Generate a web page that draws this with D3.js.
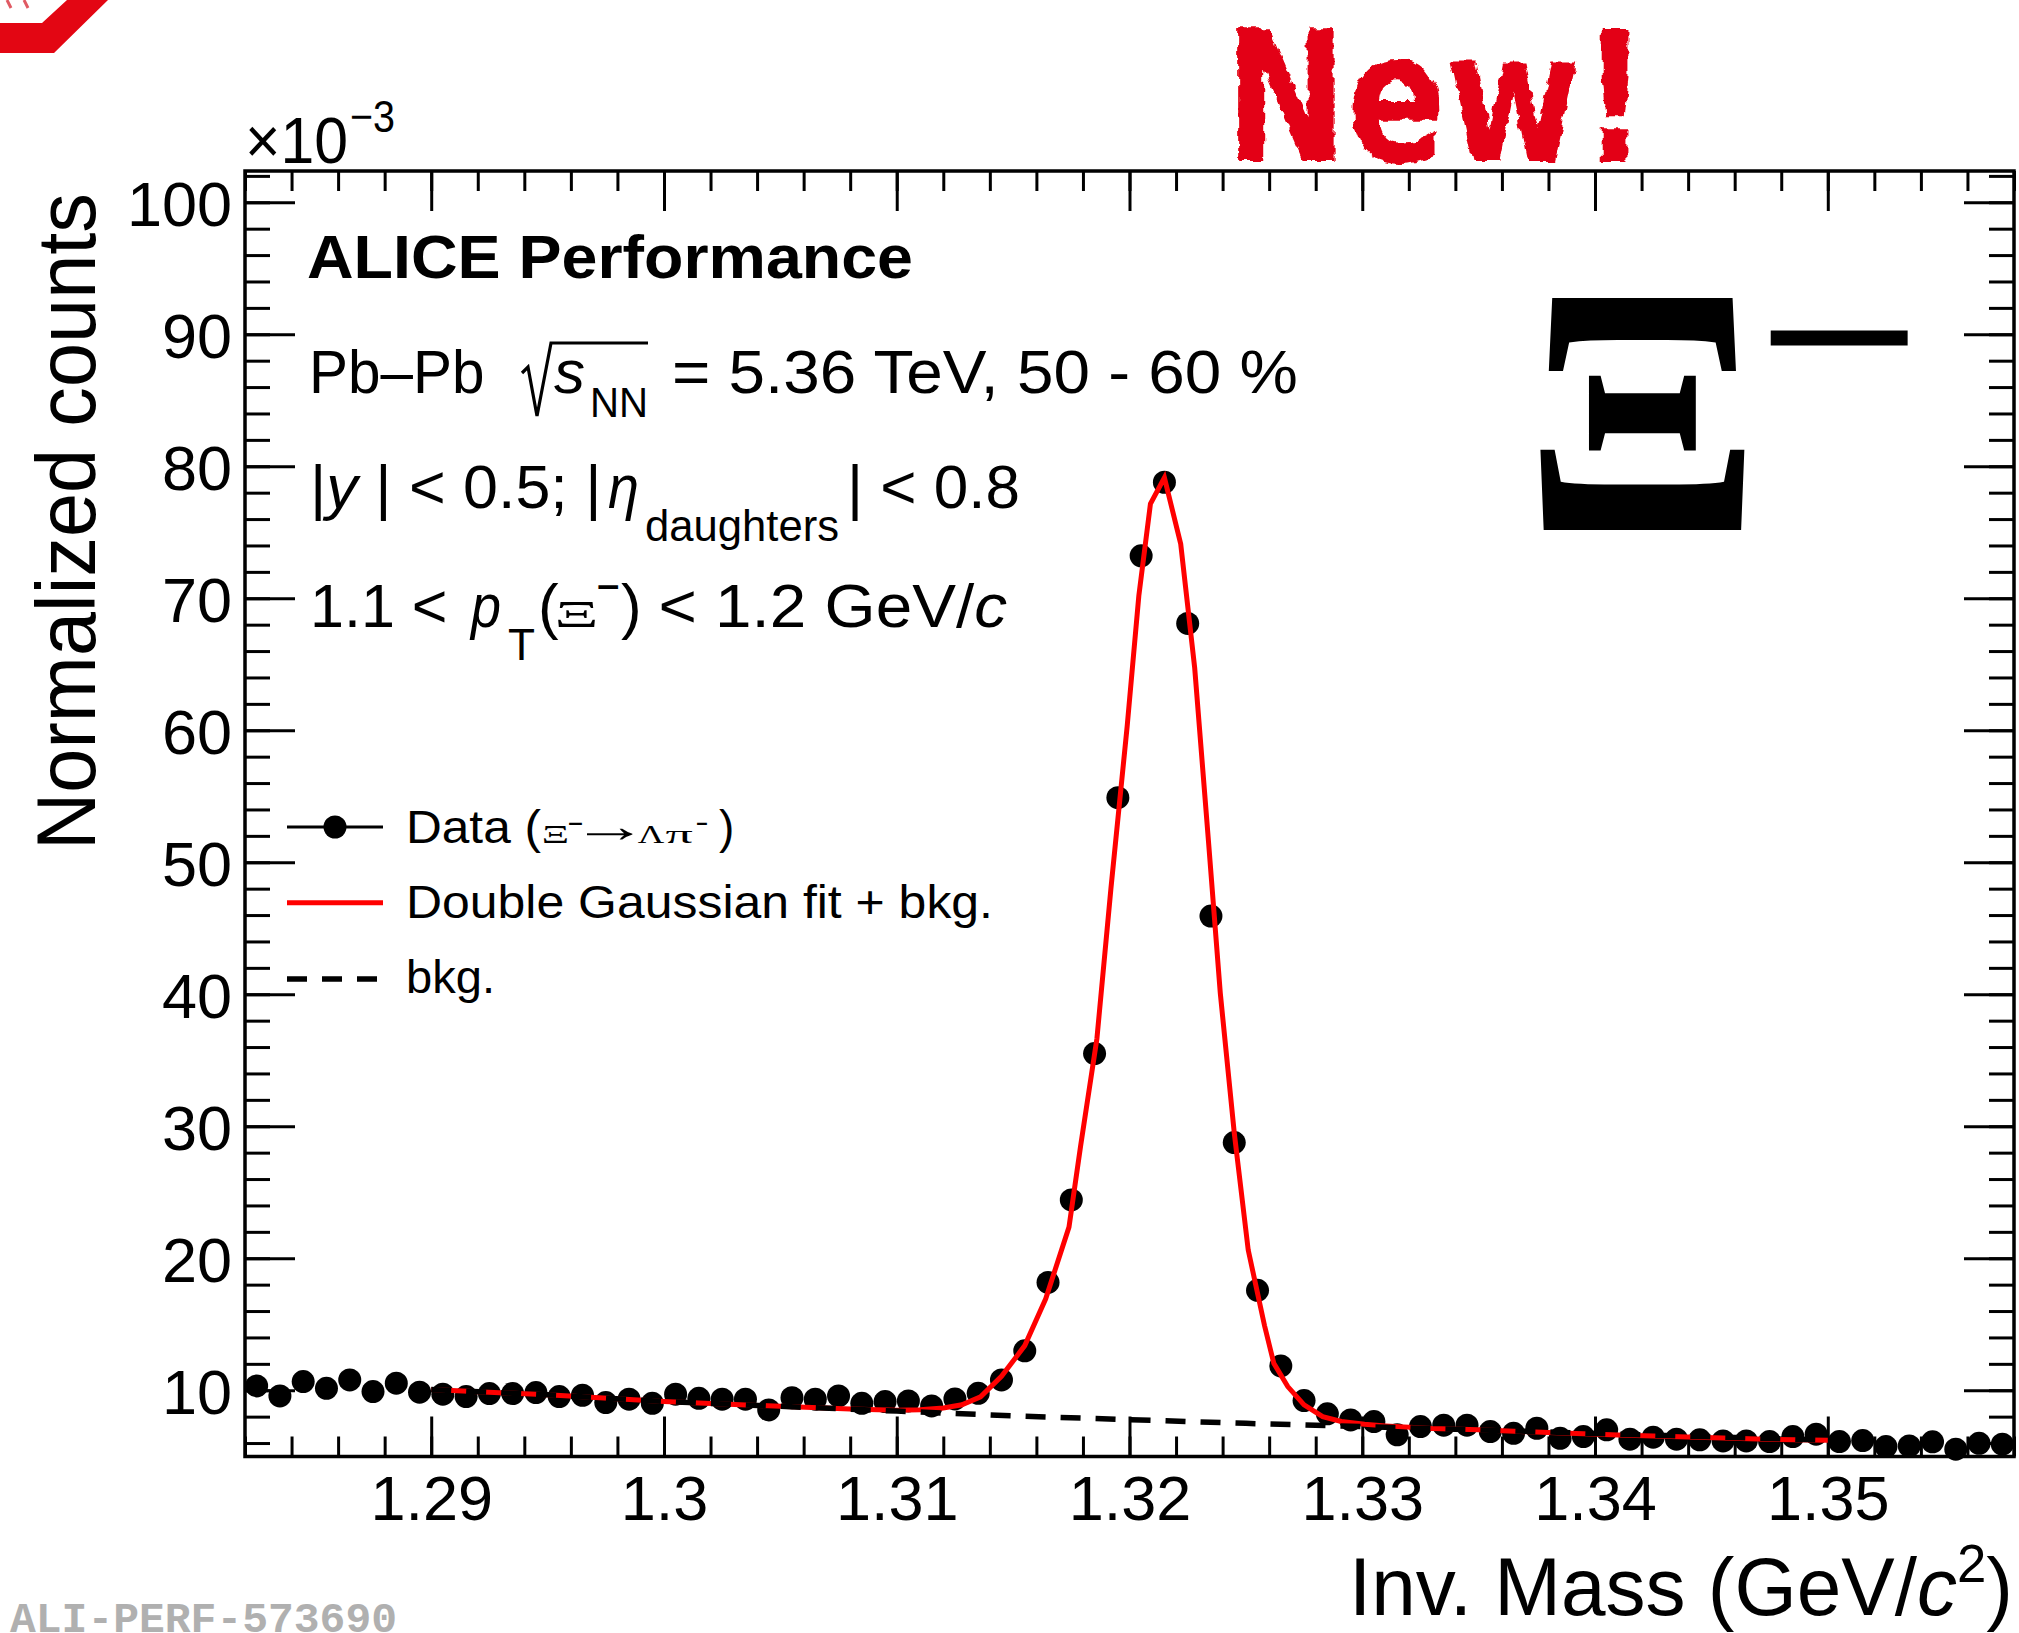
<!DOCTYPE html>
<html><head><meta charset="utf-8">
<script src="https://cdn.jsdelivr.net/npm/d3@7"></script>
<style>html,body{margin:0;padding:0;background:#fff;} svg{display:block;} text{white-space:pre;}</style>
</head><body>
<svg id="chart" width="2019" height="1633" xmlns="http://www.w3.org/2000/svg">
  <defs>
    <filter id="rough" x="-3%" y="-5%" width="106%" height="110%">
      <feTurbulence type="fractalNoise" baseFrequency="0.09" numOctaves="2" seed="4" result="n"/>
      <feDisplacementMap in="SourceGraphic" in2="n" scale="9" xChannelSelector="R" yChannelSelector="G"/>
    </filter>
  </defs>
</svg>
<script>
// ---------------- data (values in units of 10^-3) ----------------
const binLow = 1.282;
const binWidth = 0.001;
const counts = [10.33, 9.57, 10.66, 10.15, 10.78, 9.90, 10.53, 9.85, 9.70, 9.52,
  9.75, 9.75, 9.82, 9.52, 9.62, 9.07, 9.32, 9.01, 9.70, 9.39,
  9.32, 9.32, 8.51, 9.44, 9.32, 9.57, 9.01, 9.14, 9.19, 8.81,
  9.34, 9.77, 10.78, 12.99, 18.17, 24.42, 35.51, 54.89, 73.22, 78.79,
  68.09, 45.92, 28.76, 17.57, 11.84, 9.22, 8.21, 7.75, 7.63, 6.62,
  7.25, 7.35, 7.35, 6.87, 6.74, 7.12, 6.36, 6.49, 7.00, 6.29,
  6.44, 6.29, 6.24, 6.16, 6.16, 6.11, 6.49, 6.67, 6.11, 6.19,
  5.73, 5.78, 6.09, 5.53, 5.98, 5.91];
const fitMass = [1.2900, 1.2950, 1.3000, 1.3050, 1.3080, 1.3100, 1.3110, 1.3120, 1.3128, 1.3136,
  1.3145, 1.3155, 1.3164, 1.3174, 1.3179, 1.3186, 1.3192, 1.3199, 1.3204, 1.3209,
  1.3215, 1.3222, 1.3228, 1.3234, 1.3239, 1.3245, 1.3251, 1.3258, 1.3262, 1.3268,
  1.3275, 1.3283, 1.3291, 1.3301, 1.3310, 1.3330, 1.3350, 1.3380, 1.3410, 1.3440,
  1.3470, 1.3500];
const fitValue = [10.05, 9.65, 9.15, 8.78, 8.58, 8.48, 8.52, 8.66, 8.90, 9.50,
  11.05, 13.38, 16.93, 22.36, 28.52, 36.64, 47.98, 60.30, 70.17, 77.16,
  79.14, 74.11, 64.74, 51.43, 40.10, 29.50, 20.63, 14.90, 12.04, 10.28,
  8.89, 8.00, 7.63, 7.42, 7.30, 7.10, 7.00, 6.80, 6.60, 6.45,
  6.30, 6.22];
const bkgMass = [1.290, 1.295, 1.300, 1.305, 1.310, 1.315, 1.320, 1.325, 1.330, 1.335, 1.340, 1.345, 1.350];
const bkgValue = [10.05, 9.65, 9.15, 8.78, 8.42, 8.06, 7.77, 7.49, 7.25, 7.00, 6.72, 6.47, 6.22];
const xTickValues = [1.29, 1.30, 1.31, 1.32, 1.33, 1.34, 1.35];
const xTickLabels = ["1.29", "1.3", "1.31", "1.32", "1.33", "1.34", "1.35"];
const yTickValues = [10, 20, 30, 40, 50, 60, 70, 80, 90, 100];
const yTickLabels = ["10", "20", "30", "40", "50", "60", "70", "80", "90", "100"];
const xDomain = [1.282, 1.358];
const yDomain = [4.98, 102.37];

// ---------------- layout ----------------
const L = 245, R = 2014, T = 171, B = 1456.5;
const FONT = "'Liberation Sans', Arial, Helvetica, sans-serif";
const SERIF = "'Liberation Serif', 'DejaVu Serif', serif";
const RED = "#ff0000";
const svg = d3.select('#chart');

const x = d3.scaleLinear().domain(xDomain).range([L, R]);
const y = d3.scaleLinear().domain(yDomain).range([B, T]);

function styleAxis(g) {
  g.select('.domain').remove();
  g.selectAll('line').attr('stroke', '#000').attr('stroke-width', 3);
  g.attr('font-family', FONT);
}
const xMinor = d3.range(39).map(i => +(xDomain[0] + 0.002 * i).toFixed(3));
const yMinor = d3.range(6, 103, 2);

// bottom axis
svg.append('g').attr('transform', `translate(0,${B})`)
  .call(d3.axisBottom(x).tickValues(xMinor).tickSize(-20).tickSizeOuter(0).tickFormat(''))
  .call(styleAxis);
svg.append('g').attr('transform', `translate(0,${B})`)
  .call(d3.axisBottom(x).tickValues(xTickValues).tickSize(-40).tickSizeOuter(0).tickPadding(19)
    .tickFormat((d, i) => xTickLabels[i]))
  .call(styleAxis)
  .call(g => g.selectAll('text').attr('font-size', 63).attr('fill', '#000'));
// top axis
svg.append('g').attr('transform', `translate(0,${T})`)
  .call(d3.axisTop(x).tickValues(xMinor).tickSize(-20).tickSizeOuter(0).tickFormat(''))
  .call(styleAxis);
svg.append('g').attr('transform', `translate(0,${T})`)
  .call(d3.axisTop(x).tickValues(xTickValues).tickSize(-40).tickSizeOuter(0).tickFormat(''))
  .call(styleAxis);
// left axis
svg.append('g').attr('transform', `translate(${L},0)`)
  .call(d3.axisLeft(y).tickValues(yMinor).tickSize(-25).tickSizeOuter(0).tickFormat(''))
  .call(styleAxis);
svg.append('g').attr('transform', `translate(${L},0)`)
  .call(d3.axisLeft(y).tickValues(yTickValues).tickSize(-50).tickSizeOuter(0).tickPadding(13)
    .tickFormat((d, i) => yTickLabels[i]))
  .call(styleAxis)
  .call(g => g.selectAll('text').attr('font-size', 63).attr('fill', '#000').attr('dy', '0.37em'));
// right axis
svg.append('g').attr('transform', `translate(${R},0)`)
  .call(d3.axisRight(y).tickValues(yMinor).tickSize(-25).tickSizeOuter(0).tickFormat(''))
  .call(styleAxis);
svg.append('g').attr('transform', `translate(${R},0)`)
  .call(d3.axisRight(y).tickValues(yTickValues).tickSize(-50).tickSizeOuter(0).tickFormat(''))
  .call(styleAxis);

// frame
svg.append('rect').attr('x', L).attr('y', T).attr('width', R - L).attr('height', B - T)
  .attr('fill', 'none').attr('stroke', '#000').attr('stroke-width', 3.5);

// data points
svg.append('g').selectAll('circle').data(counts).join('circle')
  .attr('cx', (d, i) => x(binLow + binWidth * (i + 0.5)))
  .attr('cy', d => y(d))
  .attr('r', 11.5).attr('fill', '#000');

// fit and background
const line = d3.line().x(d => x(d[0])).y(d => y(d[1]));
svg.append('path').datum(d3.zip(fitMass, fitValue)).attr('d', line)
  .attr('fill', 'none').attr('stroke', RED).attr('stroke-width', 5).attr('stroke-linejoin', 'miter');
svg.append('path').datum(d3.zip(bkgMass, bkgValue)).attr('d', line)
  .attr('fill', 'none').attr('stroke', '#000').attr('stroke-width', 5.5).attr('stroke-dasharray', '20 15');

// ---------------- text helpers ----------------
function label(parent, o) {
  const t = parent.append('text').attr('x', o.x).attr('y', o.y)
    .attr('font-family', o.family || FONT).attr('font-size', o.size)
    .attr('font-weight', o.weight || 'normal').attr('font-style', o.style || 'normal')
    .attr('text-anchor', o.anchor || 'start').attr('fill', o.fill || '#000');
  if (o.text !== undefined) t.text(o.text);
  if (o.len) t.attr('textLength', o.len).attr('lengthAdjust', 'spacingAndGlyphs');
  return t;
}
const cnv = document.createElement('canvas');
const ctx = cnv.getContext('2d');
function fitText(parent, str, f, box, fill) {
  const size = 200;
  ctx.font = `${f.style || 'normal'} ${f.weight || 'normal'} ${size}px ${f.family}`;
  const m = ctx.measureText(str);
  const gw = m.actualBoundingBoxLeft + m.actualBoundingBoxRight;
  const gh = m.actualBoundingBoxAscent + m.actualBoundingBoxDescent;
  const sx = (box.x1 - box.x0) / gw, sy = (box.y1 - box.y0) / gh;
  const tx = box.x0 + m.actualBoundingBoxLeft * sx;
  const ty = box.y0 + m.actualBoundingBoxAscent * sy;
  return parent.append('text')
    .attr('transform', `translate(${tx},${ty}) scale(${sx},${sy})`)
    .attr('font-family', f.family).attr('font-size', size)
    .attr('font-weight', f.weight || 'normal').attr('font-style', f.style || 'normal')
    .attr('fill', fill || '#000').text(str);
}

// ---------------- axis titles ----------------
label(svg, {x: 245, y: 163, text: '×10', size: 64, len: 103});
label(svg, {x: 350, y: 132, text: '−3', size: 45, len: 45});

svg.append('text').attr('transform', 'translate(95,193) rotate(-90)')
  .attr('font-family', FONT).attr('font-size', 84).attr('text-anchor', 'end')
  .attr('textLength', 657).attr('lengthAdjust', 'spacingAndGlyphs')
  .text('Normalized counts');

{
  const t = label(svg, {x: 1349, y: 1615, size: 82, len: 664});
  t.append('tspan').text('Inv. Mass (GeV/');
  t.append('tspan').attr('font-style', 'italic').text('c');
  t.append('tspan').attr('font-size', 54).attr('dy', -33).text('2');
  t.append('tspan').attr('dy', 33).text(')');
}

// ---------------- header text block ----------------
label(svg, {x: 307, y: 278, text: 'ALICE Performance', size: 61, weight: 'bold', len: 606});

label(svg, {x: 309, y: 393, text: 'Pb–Pb', size: 62, len: 175.5});
svg.append('path').attr('d', 'M522,373 L528,367 L537,416 L551,343 L648,343')
  .attr('fill', 'none').attr('stroke', '#000').attr('stroke-width', 3.2).attr('stroke-linejoin', 'miter');
label(svg, {x: 554, y: 393, text: 's', size: 62, style: 'italic', len: 31});
label(svg, {x: 590, y: 417, text: 'NN', size: 42, len: 58});
label(svg, {x: 672, y: 393, text: '= 5.36 TeV, 50 - 60 %', size: 62, len: 626});

{
  const t = label(svg, {x: 310, y: 508, size: 62, len: 291.5});
  t.append('tspan').text('|');
  t.append('tspan').attr('font-style', 'italic').text('y');
  t.append('tspan').text(' | < 0.5; |');
}
label(svg, {x: 608, y: 508, text: 'η', size: 62, style: 'italic', len: 31});
label(svg, {x: 645, y: 541, text: 'daughters', size: 44, len: 194});
label(svg, {x: 847, y: 508, text: '| < 0.8', size: 62, len: 173});

label(svg, {x: 310, y: 627, text: '1.1 <', size: 62, len: 137.5});
label(svg, {x: 471, y: 627, text: 'p', size: 62, style: 'italic', len: 30});
label(svg, {x: 508, y: 660, text: 'T', size: 44, len: 27});
label(svg, {x: 538, y: 627, text: '(', size: 62});
fitText(svg, 'Ξ', {family: SERIF}, {x0: 558, x1: 595, y0: 601.7, y1: 626.7});
fitText(svg, '−', {family: FONT}, {x0: 598, x1: 618, y0: 585, y1: 589});
label(svg, {x: 621, y: 627, text: ')', size: 62});
{
  const t = label(svg, {x: 658.5, y: 627, size: 62, len: 348.5});
  t.append('tspan').text('< 1.2 GeV/');
  t.append('tspan').attr('font-style', 'italic').text('c');
}

// ---------------- big Xi^- ----------------
fitText(svg, 'Ξ', {family: SERIF, weight: 'bold'}, {x0: 1539.6, x1: 1744.4, y0: 298, y1: 530});
fitText(svg, '−', {family: FONT}, {x0: 1769.5, x1: 1909, y0: 330, y1: 346});

// ---------------- legend ----------------
const lg = svg.append('g');
const rows = [827, 902.7, 979];
lg.append('line').attr('x1', 287).attr('x2', 383).attr('y1', rows[0]).attr('y2', rows[0])
  .attr('stroke', '#000').attr('stroke-width', 3);
lg.append('circle').attr('cx', 335).attr('cy', rows[0]).attr('r', 11.5).attr('fill', '#000');
lg.append('line').attr('x1', 287).attr('x2', 383).attr('y1', rows[1]).attr('y2', rows[1])
  .attr('stroke', RED).attr('stroke-width', 5);
lg.append('line').attr('x1', 287).attr('x2', 383).attr('y1', rows[2]).attr('y2', rows[2])
  .attr('stroke', '#000').attr('stroke-width', 5.5).attr('stroke-dasharray', '20 15');

label(lg, {x: 406, y: 843, text: 'Data (', size: 46, len: 135});
fitText(lg, 'Ξ', {family: SERIF}, {x0: 544, x1: 567, y0: 826.7, y1: 842.7});
fitText(lg, '−', {family: FONT}, {x0: 569, x1: 582, y0: 823, y1: 825.5});
fitText(lg, '→', {family: SERIF}, {x0: 587, x1: 633, y0: 829, y1: 840});
fitText(lg, 'Λ', {family: SERIF}, {x0: 638, x1: 664, y0: 826.7, y1: 842.7});
fitText(lg, 'π', {family: SERIF}, {x0: 666, x1: 692, y0: 831, y1: 843});
fitText(lg, '−', {family: FONT}, {x0: 697, x1: 707, y0: 823, y1: 825.5});
label(lg, {x: 719, y: 843, text: ')', size: 46});
label(lg, {x: 406, y: 918, text: 'Double Gaussian fit + bkg.', size: 46, len: 587});
label(lg, {x: 406, y: 993, text: 'bkg.', size: 46, len: 89});

// ---------------- decorations ----------------
// partial ALICE logo corner
svg.append('polygon').attr('points', '0,23 42,23 67,0 108,0 54,53 0,53').attr('fill', '#e30613');
svg.append('line').attr('x1', 7).attr('y1', 0).attr('x2', 11).attr('y2', 8).attr('stroke', '#e05a63').attr('stroke-width', 3);
svg.append('line').attr('x1', 24).attr('y1', 0).attr('x2', 28).attr('y2', 8).attr('stroke', '#e05a63').attr('stroke-width', 3);

// "New!" stamp
const ng = svg.append('g').attr('filter', 'url(#rough)');
fitText(ng, 'New!', {family: "'DejaVu Sans'", weight: 'bold'}, {x0: 1238, x1: 1628, y0: 28, y1: 164}, '#e30613');

// watermark
label(svg, {x: 10, y: 1632, text: 'ALI-PERF-573690', size: 43, weight: 'bold',
  family: "'Liberation Mono', 'DejaVu Sans Mono', monospace", fill: '#b0b0b0', len: 387});
</script>
</body></html>
